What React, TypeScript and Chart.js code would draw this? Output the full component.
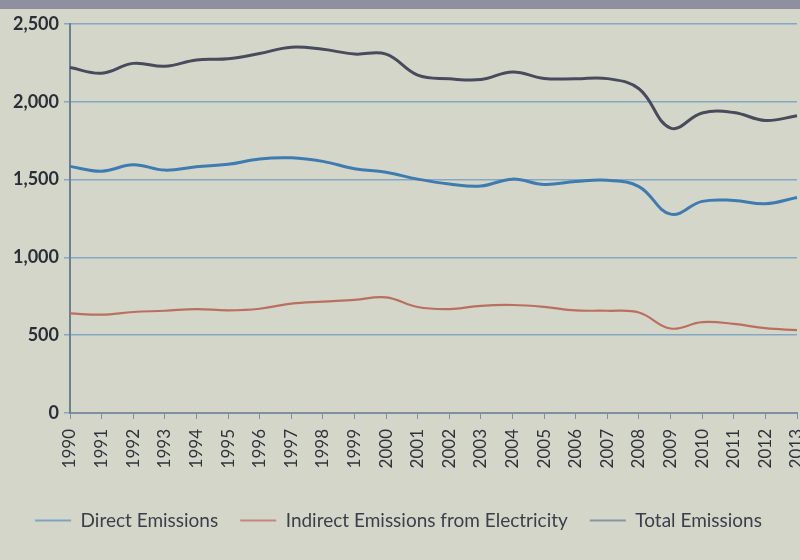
import React, { useEffect, useRef } from "react";
import { Chart, registerables } from "chart.js";

Chart.register(...registerables);

const years = ["1990","1991","1992","1993","1994","1995","1996","1997","1998","1999","2000","2001","2002","2003","2004","2005","2006","2007","2008","2009","2010","2011","2012","2013"];
const directEmissions = [1585,1554,1595,1561,1583,1598,1633,1640,1617,1570,1547,1503,1472,1459,1503,1469,1488,1496,1455,1278,1360,1366,1345,1385];
const indirectEmissions = [640,632,649,657,668,660,670,703,716,727,743,681,668,689,694,682,659,657,646,543,584,573,545,532];
const totalEmissions = [2220,2184,2247,2228,2269,2276,2310,2351,2337,2307,2306,2171,2148,2143,2192,2150,2148,2149,2084,1831,1928,1931,1880,1910];
const seriesNames = ["Direct Emissions", "Indirect Emissions from Electricity", "Total Emissions"];
const yTicks = [0, 500, 1000, 1500, 2000, 2500];

export default function App() {
  const ref = useRef<HTMLCanvasElement | null>(null);
  useEffect(() => {
    if (!ref.current) return;
    const font = "Lato, 'Noto Sans', sans-serif";
    const chart = new Chart(ref.current, {
      type: "line",
      data: {
        labels: years,
        datasets: [
          { label: seriesNames[0], data: directEmissions, borderColor: "#3d7bb0", backgroundColor: "#7fa3c0", borderWidth: 3 },
          { label: seriesNames[1], data: indirectEmissions, borderColor: "#b9705f", backgroundColor: "#c4887a", borderWidth: 2.2 },
          { label: seriesNames[2], data: totalEmissions, borderColor: "#474b5c", backgroundColor: "#8a93a2", borderWidth: 3 },
        ],
      },
      options: {
        animation: false,
        responsive: false,
        layout: { padding: { top: 24, right: 3, left: 0, bottom: 20 } },
        elements: { point: { radius: 0 }, line: { tension: 0.4 } },
        plugins: {
          tooltip: { enabled: false },
          legend: {
            position: "bottom",
            labels: {
              font: { family: font, size: 19 },
              color: "#3a3f4a",
              boxWidth: 36,
              boxHeight: 2,
              padding: 22,
              generateLabels: (c: any) =>
                c.data.datasets.map((ds: any, i: number) => ({
                  text: ds.label,
                  fillStyle: ds.backgroundColor,
                  strokeStyle: ds.backgroundColor,
                  lineWidth: 0,
                  fontColor: "#3a3f4a",
                  hidden: false,
                  datasetIndex: i,
                })),
            },
          },
        },
        scales: {
          x: {
            grid: { drawOnChartArea: false, drawTicks: true, tickLength: 6, color: "#7f90a3" },
            border: { color: "#7f90a3", width: 2 },
            ticks: {
              minRotation: 90,
              maxRotation: 90,
              autoSkip: false,
              padding: 10,
              color: "#2f333b",
              font: { family: font, size: 17 },
            },
            afterFit: (scale: any) => {
              scale.height = 76;
              scale.paddingRight = 0;
              scale.paddingLeft = 0;
            },
          },
          y: {
            min: 0,
            max: 2500,
            afterBuildTicks: (scale: any) => { scale.ticks = yTicks.map((v) => ({ value: v })); },
            grid: { color: "#86a7c2", lineWidth: 1.5, tickLength: 6 },
            border: { color: "#6f7f92", width: 2 },
            ticks: {
              padding: 5,
              color: "#2a2e36",
              font: { family: font, size: 18, weight: "bold" },
              callback: (v: any) => Number(v).toLocaleString("en-US"),
            },
            afterFit: (scale: any) => { scale.width = 70; },
          },
        },
      },
    });
    return () => chart.destroy();
  }, []);
  return (
    <div style={{ position: "absolute", left: 0, top: 0, width: 800, height: 560, background: "#d5d6ca", overflow: "hidden" }}>
      <div style={{ position: "absolute", left: 0, top: 0, width: 800, height: 9, background: "#8f8fa0" }} />
      <canvas ref={ref} width={800} height={560} style={{ position: "absolute", left: 0, top: 0 }} />
    </div>
  );
}
